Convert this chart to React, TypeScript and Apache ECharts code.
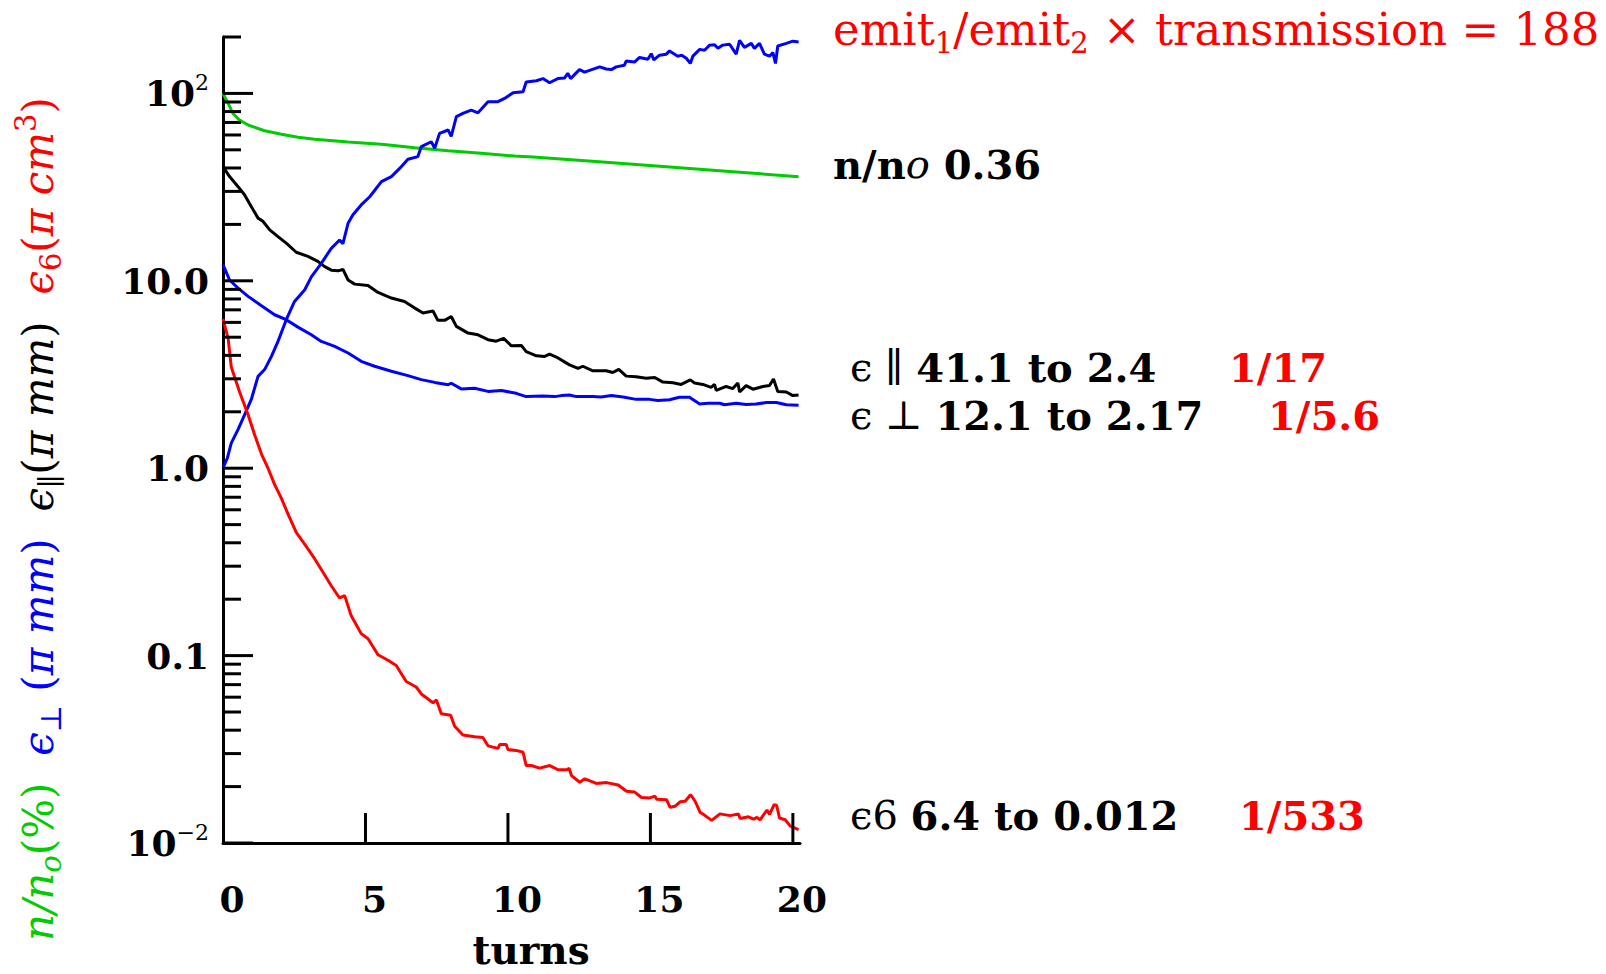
import React, { useEffect, useRef } from 'react';
import * as echarts from 'echarts';

const FONT = '"DejaVu Serif", serif';
const GREEN = '#00cc00';
const BLUE = '#0000ff';
const RED = '#ff0000';

// n/n0 (%)
const transmissionPts: [number, number][] = [
  [0, 100], [0.18, 88.4], [0.35, 78.2], [0.58, 72], [0.88, 67.8], [1.46, 63.2], [2.05, 60.5],
  [2.63, 58.3], [3.22, 56.9], [4.39, 55.1], [5.56, 53.5], [6.73, 51.3], [7.9, 49.4], [9.06, 47.9],
  [10.23, 46.3], [10.88, 45.8], [13.2, 43.2], [15.56, 40.6], [17.9, 38.2], [20.2, 35.9],
];

// emit1/emit2 x transmission
const ratioPts: [number, number][] = [
  [0, 1.0], [0.15, 1.13], [0.29, 1.36], [0.53, 1.61], [0.76, 1.93], [0.99, 2.32], [1.23, 3.09],
  [1.46, 3.36], [1.7, 3.95], [1.93, 4.75], [2.22, 6.2], [2.51, 7.76], [2.87, 8.96], [3.1, 10.5],
  [3.45, 12.4], [3.8, 14.9], [4.09, 16.5], [4.21, 15.8], [4.39, 20.3], [4.56, 22.5], [4.85, 25.4],
  [5.15, 28.1], [5.56, 33.8], [5.91, 36], [6.2, 39.8], [6.49, 44.5], [6.84, 46], [6.96, 52],
  [7.31, 55.2], [7.43, 51], [7.6, 61.2], [7.9, 63.8], [8.01, 59], [8.19, 75.2], [8.42, 78.2],
  [8.71, 81.5], [8.95, 78.8], [9.3, 90.3], [9.65, 90.3], [9.88, 94], [10.18, 100.7], [10.53, 102],
  [10.64, 115], [11.0, 116.8], [11.23, 120], [11.46, 114], [11.75, 120], [11.99, 121], [12.1, 128],
  [12.2, 120], [12.51, 134], [12.69, 130], [13.22, 138.6], [13.45, 135], [13.63, 134], [13.8, 138.6],
  [14.09, 141.5], [14.15, 149], [14.44, 147], [14.62, 155.6], [14.91, 152], [15.03, 163],
  [15.12, 151], [15.32, 160], [15.56, 162], [15.67, 168.6], [15.96, 158], [16.1, 160], [16.26, 154],
  [16.4, 144.5], [16.49, 158], [16.73, 171.8], [16.9, 170], [17.08, 181], [17.25, 182],
  [17.37, 174], [17.54, 181], [17.78, 183], [18.01, 162], [18.13, 192], [18.3, 176], [18.54, 185],
  [18.65, 174], [18.83, 185], [19.0, 162], [19.18, 158], [19.3, 165], [19.39, 144.5], [19.47, 179],
  [19.77, 185], [20.0, 190], [20.2, 188],
];

// eps parallel (pi mm)
const epsParPts: [number, number][] = [
  [0, 40.7], [0.23, 36], [0.53, 31.8], [0.76, 28.7], [0.99, 24.9], [1.23, 21.6], [1.4, 20.8],
  [1.64, 18.7], [1.93, 17.2], [2.22, 15.9], [2.57, 14.2], [2.98, 13.5], [3.33, 12.7], [3.57, 11.9],
  [3.8, 11.4], [4.04, 11.3], [4.21, 11.5], [4.39, 10.1], [4.62, 9.6], [5.09, 9.45], [5.44, 8.67],
  [5.91, 8.09], [6.37, 7.76], [6.73, 7.15], [7.02, 6.73], [7.37, 6.9], [7.54, 6.15], [7.78, 6.15],
  [8.01, 6.45], [8.19, 5.71], [8.6, 5.26], [8.95, 5.15], [9.3, 4.85], [9.59, 4.76], [9.85, 4.93],
  [10.12, 4.5], [10.47, 4.52], [10.64, 4.19], [11.0, 3.98], [11.29, 3.95], [11.46, 4.06],
  [11.7, 3.92], [12.16, 3.56], [12.46, 3.41], [12.63, 3.5], [12.98, 3.31], [13.45, 3.31],
  [13.68, 3.24], [13.89, 3.37], [14.15, 3.1], [14.5, 3.08], [14.85, 3.02], [15.15, 3.05],
  [15.44, 2.88], [15.79, 2.86], [16.08, 2.8], [16.4, 2.96], [16.55, 2.85], [16.84, 2.8],
  [17.13, 2.7], [17.25, 2.8], [17.31, 2.6], [17.66, 2.73], [17.89, 2.66], [18.07, 2.85],
  [18.13, 2.55], [18.36, 2.76], [18.6, 2.64], [18.95, 2.73], [19.18, 2.76], [19.32, 2.99],
  [19.47, 2.57], [19.77, 2.55], [20.0, 2.44], [20.2, 2.46],
];

// eps perpendicular (pi mm)
const epsPerpPts: [number, number][] = [
  [0, 12.2], [0.23, 10.1], [0.53, 9.14], [0.88, 8.26], [1.35, 7.36], [1.81, 6.59], [2.22, 6.2],
  [2.63, 5.66], [3.1, 5.15], [3.45, 4.75], [3.92, 4.47], [4.39, 4.12], [4.85, 3.72], [5.32, 3.5],
  [5.91, 3.29], [6.49, 3.12], [6.96, 2.97], [7.43, 2.87], [7.9, 2.79], [8.01, 2.84], [8.36, 2.65],
  [8.83, 2.67], [9.3, 2.57], [9.77, 2.6], [10.29, 2.51], [10.64, 2.41], [11.23, 2.43],
  [11.64, 2.41], [11.87, 2.44], [12.16, 2.46], [12.4, 2.41], [12.98, 2.41], [13.27, 2.4],
  [13.63, 2.44], [14.04, 2.4], [14.5, 2.33], [14.97, 2.33], [15.26, 2.3], [15.67, 2.32],
  [16.02, 2.39], [16.37, 2.39], [16.73, 2.2], [17.02, 2.22], [17.43, 2.22], [17.6, 2.18],
  [18.01, 2.22], [18.36, 2.19], [18.71, 2.2], [19.06, 2.24], [19.42, 2.24], [19.77, 2.18],
  [20.2, 2.17],
];

// eps6 (pi cm^3)
const eps6Pts: [number, number][] = [
  [0, 6.27], [0.18, 4.93], [0.29, 3.47], [0.58, 2.56], [0.88, 1.93], [1.11, 1.51], [1.35, 1.19],
  [1.58, 1.0], [1.81, 0.82], [2.05, 0.69], [2.28, 0.57], [2.57, 0.455], [2.92, 0.383],
  [3.22, 0.328], [3.45, 0.288], [3.8, 0.236], [4.09, 0.203], [4.27, 0.209], [4.5, 0.163],
  [4.85, 0.131], [5.09, 0.123], [5.44, 0.101], [5.79, 0.0944], [6.08, 0.0885], [6.43, 0.0727],
  [6.78, 0.068], [6.96, 0.0624], [7.37, 0.056], [7.49, 0.058], [7.66, 0.049], [7.99, 0.048],
  [8.13, 0.042], [8.42, 0.0377], [8.83, 0.0369], [9.12, 0.0366], [9.3, 0.033], [9.65, 0.032],
  [9.71, 0.0335], [9.94, 0.0335], [10.0, 0.0315], [10.29, 0.0312], [10.53, 0.0305],
  [10.64, 0.0259], [10.82, 0.0259], [11.11, 0.0251], [11.47, 0.0259], [11.76, 0.0246],
  [12.05, 0.0246], [12.15, 0.025], [12.23, 0.0229], [12.52, 0.0211], [12.7, 0.022], [13.1, 0.0208],
  [13.46, 0.021], [13.87, 0.0204], [14.16, 0.0189], [14.45, 0.0187], [14.69, 0.0175],
  [14.98, 0.0174], [15.16, 0.0178], [15.22, 0.0171], [15.57, 0.017], [15.69, 0.0155],
  [15.86, 0.0157], [16.04, 0.0166], [16.22, 0.0167], [16.41, 0.0181], [16.57, 0.0167],
  [16.74, 0.0146], [16.92, 0.014], [17.15, 0.0132], [17.44, 0.0143], [17.8, 0.014], [18.09, 0.0143],
  [18.15, 0.0135], [18.44, 0.0138], [18.62, 0.0134], [18.74, 0.0137], [18.85, 0.0133],
  [19.09, 0.015], [19.18, 0.0142], [19.34, 0.016], [19.43, 0.0159], [19.53, 0.0136],
  [19.73, 0.0133], [19.91, 0.0123], [20.2, 0.0118],
];

const xTickValues = [5, 10, 15, 20];
const xTickLabels = ['0', '5', '10', '15', '20'];
const yMajorTicks = [0.01, 0.1, 1, 10, 100];
const yMinorTicks = [
  0.02, 0.03, 0.04, 0.05, 0.06, 0.07, 0.08, 0.09,
  0.2, 0.3, 0.4, 0.5, 0.6, 0.7, 0.8, 0.9,
  2, 3, 4, 5, 6, 7, 8, 9,
  20, 30, 40, 50, 60, 70, 80, 90,
  200,
];
// rich labels for exponents -2..2
const yTickLabels = ['{b|10}{s|−2}', '{b|0.1}', '{b|1.0}', '{b|10.0}', '{b|10}{s|2}'];

const tickSeries = (values: number[], horizontal: boolean, len: number) => ({
  type: 'custom',
  silent: true,
  z: 10,
  data: values.map((v) => (horizontal ? [0, v] : [v, 0.01])),
  encode: { x: 0, y: 1 },
  renderItem: (_p: any, api: any) => {
    const p = api.coord([api.value(0), api.value(1)]);
    return {
      type: 'line',
      shape: horizontal
        ? { x1: p[0], y1: p[1], x2: p[0] + len, y2: p[1] }
        : { x1: p[0], y1: p[1], x2: p[0], y2: p[1] - len },
      style: { stroke: '#000', lineWidth: 3 },
    };
  },
});

const lineSeries = (data: [number, number][], color: string) => ({
  type: 'line',
  data,
  showSymbol: false,
  symbol: 'none',
  lineStyle: { color, width: 3 },
  z: 3,
});

const T = 42; // y title font size
const TS = 29; // y title sub/sup font size
const italic = (fill: string) => ({ fontFamily: FONT, fontStyle: 'italic', fontSize: T, lineHeight: 54, fill });
const upright = (fill: string) => ({ fontFamily: FONT, fontSize: T, lineHeight: 54, fill });
const sub = (fill: string, it = false) => ({
  fontFamily: FONT, fontStyle: it ? 'italic' : 'normal', fontSize: TS, lineHeight: TS, verticalAlign: 'bottom', fill,
});
const sup = (fill: string) => ({ fontFamily: FONT, fontSize: TS, lineHeight: TS, verticalAlign: 'top', fill });

export default function App() {
  const ref = useRef<HTMLDivElement>(null);
  useEffect(() => {
    const chart = echarts.init(ref.current!, null, { renderer: 'svg' });
    const bold = { fontFamily: FONT, fontWeight: 'bold' as const };
    chart.setOption({
      animation: false,
      backgroundColor: '#fff',
      grid: { left: 223, top: 37, width: 577, height: 806, containLabel: false },
      xAxis: {
        type: 'value',
        min: 0,
        max: 20.25,
        interval: 5,
        splitLine: { show: false },
        axisTick: { show: false },
        axisLine: { lineStyle: { color: '#000', width: 3 } },
        axisLabel: {
          margin: 38,
          color: '#000',
          fontSize: 36,
          ...bold,
          padding: [0, 0, 0, 18],
          formatter: (v: number) => {
            const i = Math.round(v / 5);
            return Math.abs(v - i * 5) < 1e-6 && i < xTickLabels.length ? xTickLabels[i] : '';
          },
        },
      },
      yAxis: {
        type: 'log',
        logBase: 10,
        min: 0.01,
        max: 200,
        splitLine: { show: false },
        axisTick: { show: false },
        minorTick: { show: false },
        axisLine: { lineStyle: { color: '#000', width: 3 } },
        axisLabel: {
          margin: 14,
          formatter: (v: number) => {
            const e = Math.log10(v);
            const r = Math.round(e);
            if (Math.abs(e - r) > 1e-6) return '';
            const idx = r + 2;
            return idx >= 0 && idx < yTickLabels.length ? yTickLabels[idx] : '';
          },
          rich: {
            b: { ...bold, fontSize: 36, lineHeight: 44, color: '#000' },
            s: { fontFamily: FONT, fontSize: 22, lineHeight: 22, verticalAlign: 'top', color: '#000' },
          },
        },
      },
      series: [
        lineSeries(transmissionPts, GREEN),
        lineSeries(epsParPts, '#000'),
        lineSeries(epsPerpPts, BLUE),
        lineSeries(ratioPts, BLUE),
        lineSeries(eps6Pts, RED),
        tickSeries(yMajorTicks, true, 30),
        tickSeries(yMinorTicks, true, 18),
        tickSeries(xTickValues, false, 30),
      ],
      graphic: [
        {
          type: 'text',
          x: 38,
          y: 519,
          rotation: Math.PI / 2,
          style: {
            text:
              '{gi|n/n}{gsub|o}{g|(%)}{sp|  }{bli|ϵ}{blsub|⊥}{sp| }{bl|(}{bli|π mm}{bl|)}{sp|  }' +
              '{ki|ϵ}{ksub|∥}{k|(}{ki|π mm}{k|)}{sp|  }{ri|ϵ}{rsub|6}{r|(}{ri|π cm}{rsup|3}{r|)}',
            align: 'center',
            verticalAlign: 'middle',
            rich: {
              gi: italic(GREEN),
              gsub: sub(GREEN, true),
              g: upright(GREEN),
              sp: upright('#000'),
              bli: italic(BLUE),
              blsub: sub(BLUE),
              bl: upright(BLUE),
              ki: italic('#000'),
              ksub: sub('#000'),
              k: upright('#000'),
              ri: italic(RED),
              rsub: sub(RED),
              rsup: sup(RED),
              r: upright(RED),
            },
          },
        },
        {
          type: 'text',
          x: 531,
          y: 950,
          style: { text: 'turns', ...bold, fontSize: 39, fill: '#000', align: 'center', verticalAlign: 'middle' },
        },
        {
          type: 'text',
          x: 833,
          y: 29,
          style: {
            text: '{r|emit}{rs|1}{r|/emit}{rs|2}{r| × transmission = 188}',
            align: 'left',
            verticalAlign: 'middle',
            rich: {
              r: { fontFamily: FONT, fontSize: 45, lineHeight: 56, fill: RED },
              rs: { fontFamily: FONT, fontSize: 29, lineHeight: 29, verticalAlign: 'bottom', fill: RED },
            },
          },
        },
        {
          type: 'text',
          x: 833,
          y: 164,
          style: {
            text: '{b|n/n}{i|o}{b| 0.36}',
            align: 'left',
            verticalAlign: 'middle',
            rich: {
              b: { ...bold, fontSize: 40, lineHeight: 50, fill: '#000' },
              i: { fontFamily: FONT, fontStyle: 'italic', fontSize: 40, lineHeight: 50, fill: '#000' },
            },
          },
        },
        ...[
          { y: 367, lead: 'ϵ ∥ ', val: '41.1 to 2.4', frac: '1/17', fx: 1229 },
          { y: 415, lead: 'ϵ ⊥ ', val: '12.1 to 2.17', frac: '1/5.6', fx: 1268 },
          { y: 815, lead: 'ϵ6 ', val: '6.4 to 0.012', frac: '1/533', fx: 1239 },
        ].flatMap((a) => [
          {
            type: 'text',
            x: 850,
            y: a.y,
            style: {
              text: `{n|${a.lead}}{b|${a.val}}`,
              align: 'left',
              verticalAlign: 'middle',
              rich: {
                n: { fontFamily: FONT, fontSize: 40, lineHeight: 50, fill: '#000' },
                b: { ...bold, fontSize: 40, lineHeight: 50, fill: '#000' },
              },
            },
          },
          {
            type: 'text',
            x: a.fx,
            y: a.y,
            style: { text: a.frac, ...bold, fontSize: 40, fill: RED, align: 'left', verticalAlign: 'middle' },
          },
        ]),
      ],
    });
    return () => chart.dispose();
  }, []);
  return (
    <div
      ref={ref}
      style={{ position: 'fixed', left: 0, top: 0, width: 1606, height: 974, background: '#fff' }}
    />
  );
}
